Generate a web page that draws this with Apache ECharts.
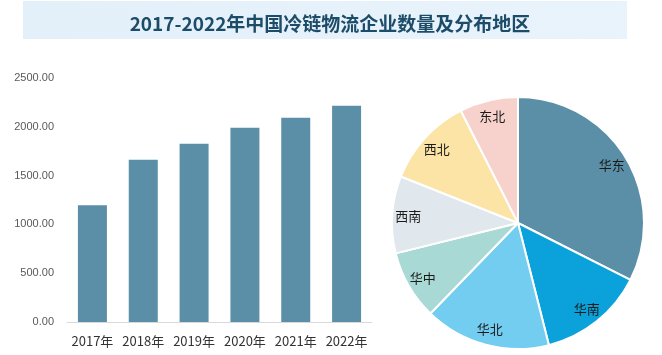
<!DOCTYPE html>
<html><head><meta charset="utf-8">
<script src="https://cdn.jsdelivr.net/npm/echarts@6/dist/echarts.min.js"></script>
<style>html,body{margin:0;padding:0;background:#fff}#c{width:662px;height:355px}</style>
</head><body><div id="c"></div>
<script>
const years = ['2017年','2018年','2019年','2020年','2021年','2022年'];
const counts = [1195, 1663, 1827, 1991, 2093, 2216];
const regions = ['华东','华南','华北','华中','西南','西北','东北'];
const shares = [32.5, 13.6, 16.2, 8.9, 9.9, 11.5, 7.5];
const regionColors = ['#5b8fa7','#0ba2dc','#72cdf1','#a9d9d5','#e0e8ee','#fbe4a5','#f7d2cc'];
const yTicks = [0, 500, 1000, 1500, 2000, 2500];

const chart = echarts.init(document.getElementById('c'), null, {renderer:'canvas'});
const pieData = regions.map((n,i)=>({name:n, value:shares[i], itemStyle:{color:regionColors[i]}}));
chart.setOption({
  animation:false,
  graphic:[{type:'rect', shape:{x:23,y:1,width:604,height:38}, z:-1,
    style:{fill:new echarts.graphic.LinearGradient(0,0,1,0,[{offset:0,color:'#e4f0f9'},{offset:1,color:'#e8f3fc'}])}}],
  title:{text:'2017-2022年中国冷链物流企业数量及分布地区', left:325, top:9, textAlign:'center',
    textStyle:{fontFamily:'Noto Sans CJK SC', fontWeight:'bold', fontSize:19, color:'#1d4c69'}},
  grid:{left:67, top:78, width:305, height:244},
  xAxis:{type:'category', data:years, axisTick:{show:false},
    axisLine:{lineStyle:{color:'#d9d9d9'}},
    axisLabel:{interval:0, hideOverlap:false, color:'#333', fontSize:13, margin:13, fontFamily:'Noto Sans CJK SC'}},
  yAxis:{type:'value', min:yTicks[0], max:yTicks[yTicks.length-1], interval:500, splitLine:{show:false},
    axisLabel:{color:'#595959', fontSize:11, margin:13, formatter:v=>v.toFixed(2), fontFamily:'Liberation Sans'}},
  series:[
    {type:'bar', data:counts, barWidth:29, itemStyle:{color:'#5b8fa7'}},
    {type:'pie', center:[518,223], radius:[0,126], startAngle:90, clockwise:true,
      data:pieData, label:{show:false}, labelLine:{show:false},
      itemStyle:{borderColor:'#fff', borderWidth:2}, emphasis:{disabled:true}},
    {type:'pie', center:[518,223], radius:[88,126], startAngle:90, clockwise:true, silent:true,
      data:regions.map((n,i)=>({name:n, value:shares[i]})),
      itemStyle:{color:'rgba(0,0,0,0)'}, labelLine:{show:false},
      label:{show:true, position:'inside', formatter:'{b}', color:'#1a1a1a', fontSize:13, fontFamily:'Noto Sans CJK SC'}}
  ]
});
</script></body></html>
